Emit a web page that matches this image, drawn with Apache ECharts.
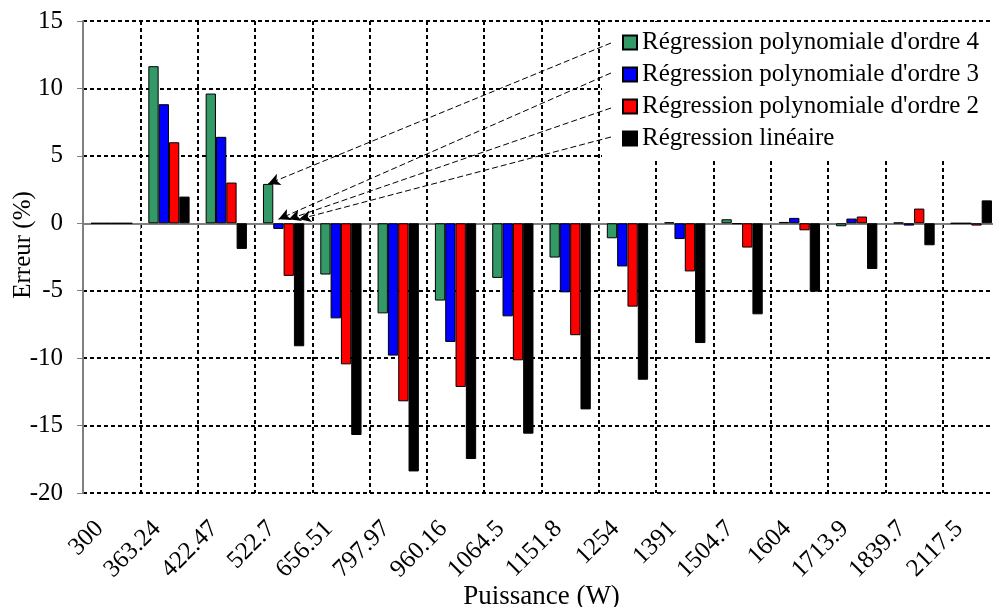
<!DOCTYPE html>
<html>
<head>
<meta charset="utf-8">
<script src="https://cdn.jsdelivr.net/npm/echarts@6/dist/echarts.min.js"></script>
<style>
html,body{margin:0;padding:0;background:#fff;}
#main{width:993px;height:607px;}
</style>
</head>
<body>
<div id="main"></div>
<script>
// puissance (W)
var categories = ['300','363.24','422.47','522.7','656.51','797.97','960.16','1064.5','1151.8','1254','1391','1504.7','1604','1713.9','1839.7','2117.5'];

// erreur (%) par type de regression
var ordre4 = [0, 11.65, 9.62, 2.92, -3.8, -6.68, -5.73, -4.05, -2.54, -1.11, 0.07, 0.3, 0.1, -0.22, 0.05, 0];
var ordre3 = [0, 8.83, 6.41, -0.42, -7.05, -9.81, -8.8, -6.9, -5.12, -3.2, -1.17, -0.05, 0.4, 0.35, -0.17, 0];
var ordre2 = [0, 6.01, 3.02, -3.9, -10.46, -13.2, -12.14, -10.16, -8.3, -6.18, -3.57, -1.8, -0.52, 0.5, 1.09, -0.17];
var lineaire = [0, 1.98, -1.9, -9.12, -15.7, -18.4, -17.48, -15.6, -13.8, -11.6, -8.88, -6.75, -5.07, -3.39, -1.63, 1.7];

var noms = ["Régression polynomiale d'ordre 4", "Régression polynomiale d'ordre 3", "Régression polynomiale d'ordre 2", "Régression linéaire"];
var couleurs = ['#339966', '#0000ff', '#ff0000', '#000000'];

var yTicks = { min: -20, max: 15, interval: 5 };

// fleches legende -> barres du groupe 522.7
var flecheDepart = [43, 73, 108, 137];
var flecheCible = [2.92, 0.3, 0.3, 0.3];
var flecheCat = 3;

var police = 'Liberation Serif';
var pointille = { color: '#000', width: 2, type: [4, 3] };

var myChart = echarts.init(document.getElementById('main'));

var valeurs = [ordre4, ordre3, ordre2, lineaire];
var series = [];
for (var i = 0; i < valeurs.length; i++) {
	series.push({
		name: noms[i],
		type: 'bar',
		xAxisIndex: 0,
		data: valeurs[i],
		barGap: '0%',
		barCategoryGap: '28%',
		itemStyle: { color: couleurs[i], borderColor: '#000', borderWidth: 1 },
		emphasis: { disabled: true },
		markLine: {
			silent: true,
			symbol: ['none', 'arrow'],
			symbolSize: [9, 12],
			label: { show: false },
			lineStyle: { color: '#000', width: 1, type: [6, 3] },
			data: [[
				{ x: 611, y: flecheDepart[i] },
				{ coord: [categories[flecheCat], flecheCible[i]] }
			]]
		}
	});
}

myChart.setOption({
	animation: false,
	textStyle: { fontFamily: police, color: '#000' },
	grid: { left: 83, top: 21, width: 917, height: 472, outerBoundsMode: 'none', containLabel: false },
	legend: {
		orient: 'vertical',
		left: 602,
		top: 22,
		padding: [8, 20, 7, 20],
		backgroundColor: '#fff',
		itemWidth: 14,
		itemHeight: 14,
		itemGap: 7,
		icon: 'rect',
		textStyle: { fontFamily: police, fontSize: 25, color: '#000', lineHeight: 25 },
		data: noms
	},
	xAxis: [{
		type: 'category',
		data: categories,
		position: 'bottom',
		name: 'Puissance (W)',
		nameLocation: 'middle',
		nameGap: 90,
		nameMoveOverlap: false,
		nameTextStyle: { fontFamily: police, fontSize: 27, color: '#000' },
		axisLine: { show: false, onZero: false },
		axisTick: { show: false },
		axisLabel: { interval: 0, rotate: 45, margin: 20, padding: [0, 17, 0, 0], fontFamily: police, fontSize: 25, color: '#000' },
		splitLine: { show: true, interval: 0, lineStyle: pointille }
	}, {
		type: 'category',
		data: categories,
		position: 'bottom',
		axisLine: { show: true, onZero: true, lineStyle: { color: '#808080', width: 2 } },
		axisTick: { show: true, interval: 0, length: 6, lineStyle: { color: '#808080', width: 1 } },
		axisLabel: { show: false },
		splitLine: { show: false }
	}],
	yAxis: {
		type: 'value',
		min: yTicks.min,
		max: yTicks.max,
		interval: yTicks.interval,
		name: 'Erreur (%)',
		nameLocation: 'middle',
		nameGap: 47,
		nameMoveOverlap: false,
		nameTextStyle: { fontFamily: police, fontSize: 25, color: '#000', padding: [0, 0, 0, 24] },
		axisLine: { show: true, lineStyle: { color: '#808080', width: 2 } },
		axisTick: { show: true, length: 6, lineStyle: { color: '#808080', width: 1 } },
		axisLabel: { margin: 20, fontFamily: police, fontSize: 25, color: '#000' },
		splitLine: { show: true, lineStyle: pointille }
	},
	series: series
});
</script>
</body>
</html>
